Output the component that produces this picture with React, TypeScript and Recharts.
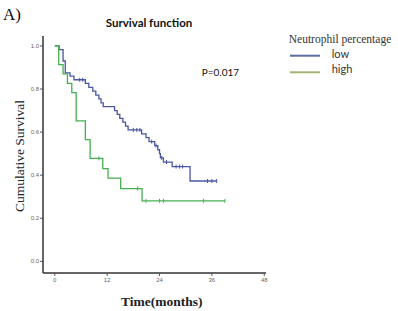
import React from 'react';
import { LineChart, Line, XAxis, YAxis } from 'recharts';

// Kaplan-Meier steps (months, cumulative survival)
const lowEventTimes = [1.0, 1.9, 2.4, 3.5, 4.4, 7.0, 7.8, 8.7, 9.4, 10.1, 10.6, 11.1, 13.7, 14.3, 14.9, 15.6, 16.2, 16.8, 19.9, 20.9, 21.6, 22.9, 23.6, 24.0, 24.2, 24.9, 26.9, 31.0];
const lowSurvival = [0.983, 0.93, 0.875, 0.86, 0.843, 0.826, 0.808, 0.79, 0.772, 0.754, 0.736, 0.718, 0.7, 0.682, 0.664, 0.646, 0.628, 0.61, 0.592, 0.574, 0.556, 0.537, 0.518, 0.5, 0.48, 0.461, 0.44, 0.373];
const lowCensorTimes = [5.7, 6.4, 18.0, 18.8, 19.5, 22.2, 23.2, 24.5, 25.6, 27.8, 28.6, 29.3, 35.0, 36.0, 37.1];

const highEventTimes = [0.9, 1.9, 2.9, 3.9, 4.9, 7.0, 8.1, 11.0, 12.2, 15.1, 20.0];
const highSurvival = [0.913, 0.87, 0.826, 0.783, 0.652, 0.565, 0.478, 0.43, 0.386, 0.338, 0.281];
const highCensorTimes = [10.1, 19.0, 20.9, 24.0, 24.9, 34.1, 39.0];

const xTicks = [0, 12, 24, 36, 48];
const yTicks = [0, 0.2, 0.4, 0.6, 0.8, 1.0];

interface CurvePoint {
  t: number;
  s: number;
  censored: boolean;
}

// 사건 + 중도절단 시점을 하나의 계단 데이터로 합친다
function buildCurve(eventTimes: number[], survival: number[], censorTimes: number[]): CurvePoint[] {
  const pts: CurvePoint[] = [{ t: 0, s: 1, censored: false }];
  eventTimes.forEach((t, i) => pts.push({ t, s: survival[i], censored: false }));
  censorTimes.forEach(t => pts.push({ t, s: NaN, censored: true }));
  pts.sort((a, b) => a.t - b.t || (a.censored ? 1 : -1));
  let current = 1;
  pts.forEach(p => {
    if (p.censored) p.s = current;
    else current = p.s;
  });
  return pts;
}

const lowData = buildCurve(lowEventTimes, lowSurvival, lowCensorTimes);
const highData = buildCurve(highEventTimes, highSurvival, highCensorTimes);

const BLUE = '#4a57a3';
const GREEN = '#45b04f';

const censorDot = (color: string) => (props: any) => {
  const { cx, cy, payload, index } = props;
  if (!payload || !payload.censored) return <g key={`d${index}`} />;
  return <line key={`d${index}`} x1={cx} x2={cx} y1={cy - 2} y2={cy + 2} stroke={color} strokeWidth={1} />;
};

const tickStyle = { fontSize: 6, fill: '#666', fontFamily: 'Liberation Sans, Arial, sans-serif' };

export default function App() {
  return (
    <div style={{ position: 'absolute', left: 0, top: 0, width: 398, height: 311, background: '#fff' }}>
      <LineChart width={398} height={311} margin={{ top: 36, right: 132, left: 0, bottom: 0 }}>
        <XAxis
          type="number"
          dataKey="t"
          domain={[-2.7, 48.4]}
          ticks={xTicks}
          allowDataOverflow
          height={38}
          tick={tickStyle}
          tickSize={3}
          tickMargin={2}
          stroke="#333"
          axisLine={{ stroke: '#333', strokeWidth: 1.5 }}
          tickLine={{ stroke: '#555' }}
        />
        <YAxis
          type="number"
          domain={[-0.054, 1.046]}
          ticks={yTicks}
          allowDataOverflow
          width={43}
          tick={tickStyle}
          tickSize={3}
          tickMargin={1}
          tickFormatter={(v: number) => v.toFixed(1)}
          axisLine={{ stroke: '#333', strokeWidth: 1.5 }}
          tickLine={{ stroke: '#555' }}
        />
        <Line
          data={lowData}
          dataKey="s"
          type="stepAfter"
          stroke={BLUE}
          strokeWidth={1.3}
          dot={censorDot(BLUE)}
          activeDot={false}
          isAnimationActive={false}
        />
        <Line
          data={highData}
          dataKey="s"
          type="stepAfter"
          stroke={GREEN}
          strokeWidth={1.3}
          dot={censorDot(GREEN)}
          activeDot={false}
          isAnimationActive={false}
        />
      </LineChart>
      <svg
        width={398}
        height={311}
        style={{ position: 'absolute', left: 0, top: 0, pointerEvents: 'none' }}
      >
        <text x={3} y={19.5} fontSize={17} fontFamily="Liberation Serif, serif" fill="#111">A)</text>
        <text x={149} y={27.3} textAnchor="middle" fontSize={11.5} fontWeight="bold" fontFamily="Lato, sans-serif" fill="#111">
          Survival function
        </text>
        <text x={201.7} y={76} fontSize={10} fontFamily="Lato, sans-serif" fill="#111">P=0.017</text>
        <text
          x={0}
          y={0}
          transform="translate(24,156) rotate(-90)"
          textAnchor="middle"
          fontSize={13.5}
          fontFamily="Liberation Serif, serif"
          fill="#222"
        >
          Cumulative Survival
        </text>
        <text x={161.7} y={305.5} textAnchor="middle" fontSize={13.5} fontWeight="bold" fontFamily="Liberation Serif, serif" fill="#222">
          Time(months)
        </text>
        <text x={340} y={43.3} textAnchor="middle" fontSize={11.5} fontFamily="Liberation Serif, serif" fill="#333">
          Neutrophil percentage
        </text>
        <line x1={290} x2={320} y1={55.7} y2={55.7} stroke="#5a6ea8" strokeWidth={2} />
        <line x1={290} x2={320} y1={72.3} y2={72.3} stroke="#a4b572" strokeWidth={2} />
        <text x={331.7} y={57.5} fontSize={11} fontFamily="Lato, sans-serif" fill="#333">low</text>
        <text x={331.7} y={73} fontSize={11} fontFamily="Lato, sans-serif" fill="#333">high</text>
      </svg>
    </div>
  );
}
